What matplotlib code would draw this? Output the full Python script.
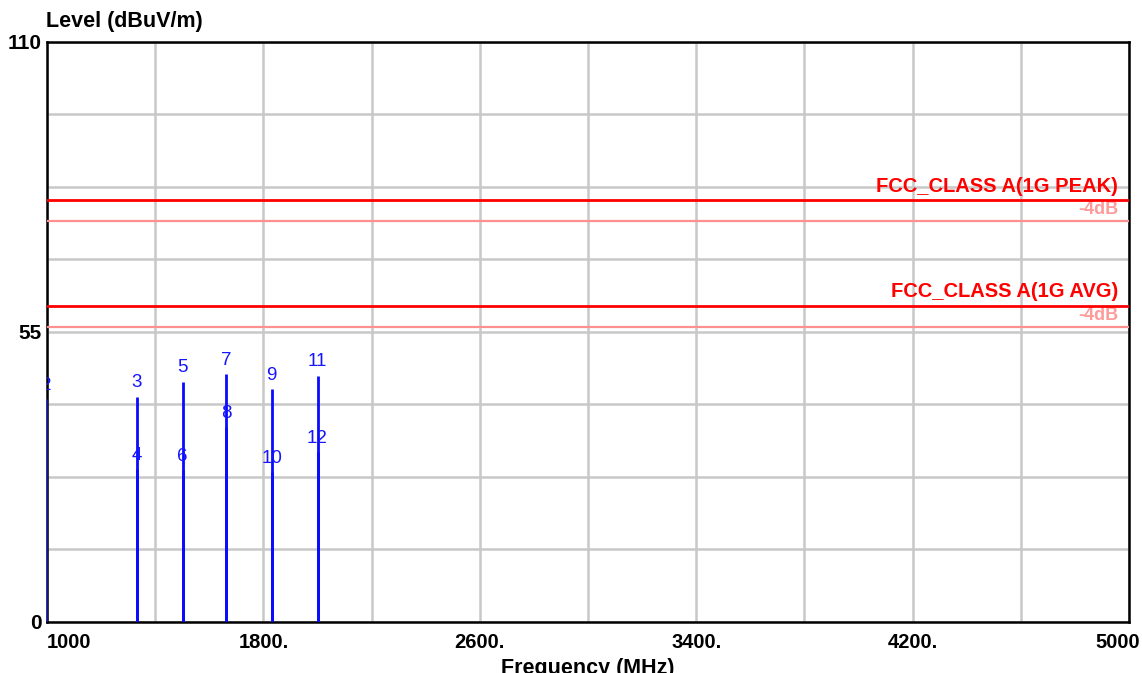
import matplotlib.pyplot as plt
import matplotlib.transforms as mtransforms
import numpy as np

# Limit lines (dBuV/m) and their -4 dB margins
limit_names = ['FCC_CLASS A(1G PEAK)', 'FCC_CLASS A(1G AVG)']
limit_levels = [80.0, 60.0]
margin_db = 4.0

# Measured markers: frequency (MHz), level (dBuV/m), marker number
marker_freqs = [997, 1332, 1332, 1501, 1501, 1662, 1662, 1830, 1830, 2000, 2000]
marker_levels = [42.3, 42.7, 29.0, 45.6, 28.8, 47.0, 37.0, 44.1, 28.4, 46.7, 32.2]
marker_labels = ['2', '3', '4', '5', '6', '7', '8', '9', '10', '11', '12']

x_ticks = [1000, 1800, 2600, 3400, 4200, 5000]
x_tick_labels = ['1000', '1800.', '2600.', '3400.', '4200.', '5000']
y_ticks = [0, 55, 110]

plt.rcParams['font.family'] = ['Liberation Sans', 'DejaVu Sans']

fig = plt.figure(figsize=(11.42, 6.73), dpi=100)
ax = fig.add_axes([0.0412, 0.0758, 0.9475, 0.8618])

ax.set_xlim(1000, 5000)
ax.set_ylim(0, 110)

# grid every 400 MHz / 13.75 dB
ax.set_xticks(np.arange(1000, 5001, 400), minor=True)
ax.set_yticks(np.linspace(0, 110, 9), minor=True)
ax.grid(which='both', color='#c8c8c8', linewidth=1.8, zorder=0)
ax.tick_params(which='both', length=0)

ax.set_xticks(x_ticks)
ax.set_xticklabels(x_tick_labels, fontsize=14.5, fontweight='bold')
ax.tick_params(axis='x', pad=8)
xl = ax.get_xticklabels()
xl[0].set_horizontalalignment('left')
xl[-1].set_transform(xl[-1].get_transform() +
                     mtransforms.ScaledTranslation(-0.11, 0, fig.dpi_scale_trans))

ax.set_yticks(y_ticks)
ax.set_yticklabels([str(v) for v in y_ticks], fontsize=15, fontweight='bold')
ax.tick_params(axis='y', pad=4)

for s in ax.spines.values():
    s.set_color('black')
    s.set_linewidth(1.8)

# limit lines
for name, lvl in zip(limit_names, limit_levels):
    ax.axhline(lvl, color='#ff0000', linewidth=2, zorder=3)
    ax.axhline(lvl - margin_db, color='#ff9090', linewidth=1.6, zorder=3)
    ax.annotate(name, (4960, lvl), xytext=(0, 3), textcoords='offset points',
                ha='right', va='bottom', color='#ff0000', fontsize=14.5,
                fontweight='bold', zorder=4)
    ax.annotate('-4dB', (4960, lvl - margin_db), xytext=(0, 2), textcoords='offset points',
                ha='right', va='bottom', color='#ff9a9a', fontsize=13,
                fontweight='bold', zorder=2)

# marker lines and numbers
ax.vlines(marker_freqs, 0, marker_levels, color='#0a0aff', linewidth=2, zorder=4)
for f, lvl, lab in zip(marker_freqs, marker_levels, marker_labels):
    ax.annotate(lab, (f, lvl), xytext=(0, 10), textcoords='offset points',
                ha='center', va='center', color='#1515ff', fontsize=13.5,
                clip_on=True, annotation_clip=False, zorder=5)

fig.text(0.0403, 0.952, 'Level (dBuV/m)', fontsize=15.5, fontweight='bold',
         ha='left', va='bottom')
ax.set_xlabel('Frequency (MHz)', fontsize=15.5, fontweight='bold', labelpad=4)

fig.savefig('out.png', dpi=100)
